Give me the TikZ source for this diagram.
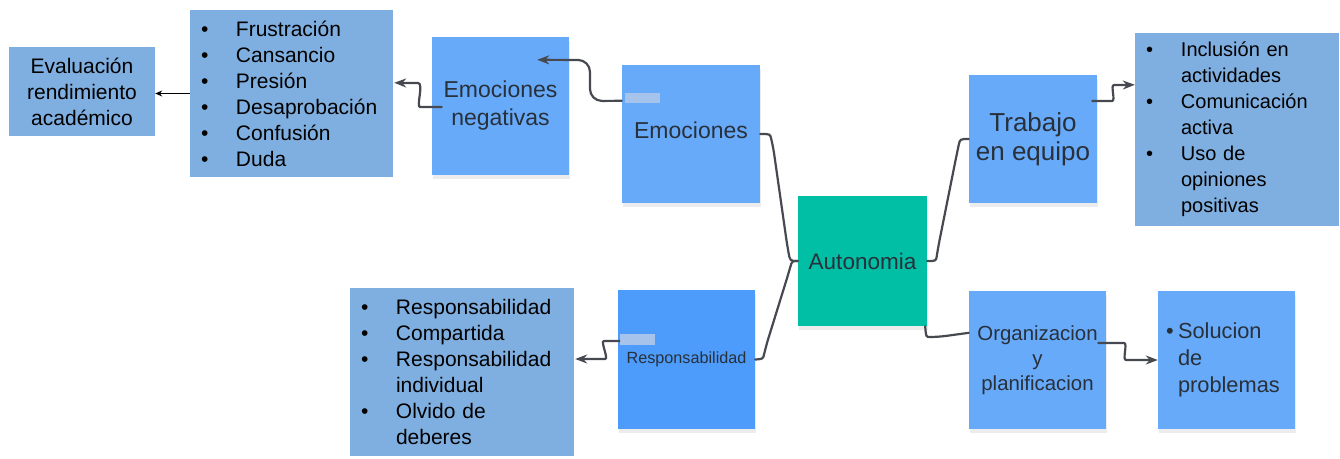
\documentclass[tikz,border=0pt]{standalone}
\usepackage{fontspec}
\setmainfont{Liberation Sans}
\usepackage{tikz}
\usetikzlibrary{shapes,arrows,arrows.meta,positioning,calc,shadows}

\definecolor{listblue}{RGB}{127,175,224}
\definecolor{noteblue}{RGB}{104,170,250}
\definecolor{respblue}{RGB}{77,155,250}
\definecolor{autoteal}{RGB}{0,191,165}
\definecolor{linkgray}{RGB}{70,74,80}
\definecolor{notetext}{RGB}{40,48,58}
\definecolor{patchblue}{RGB}{165,195,235}

\newcommand{\fsz}[2]{\fontsize{#1}{#2}\selectfont}
\newcommand{\itm}{\makebox[35pt][l]{\textbullet}}
\newcommand{\cont}{\hspace*{35pt}}

\begin{document}
\begin{tikzpicture}[
    x=1pt, y=-1pt,
    every node/.style={font=\fsz{21}{26}},
    note/.style={rectangle, fill=noteblue, text=notetext, align=center, inner sep=0pt, minimum width=137pt, minimum height=138pt, drop shadow={shadow xshift=1pt, shadow yshift=-4pt, opacity=0.15}},
    list/.style={rectangle, fill=listblue, text=black, align=left, inner xsep=11pt, inner ysep=0pt},
    link/.style={draw=linkgray, line width=2.2pt, line cap=round, rounded corners=8pt},
    arrow/.style={link, ->, >={Stealth[length=12pt,width=9pt]}},
    thinarrow/.style={draw=black, line width=0.9pt, ->, >={Stealth[length=7pt,width=6pt]}},
    patch/.style={fill=patchblue}
]
\useasboundingbox (0,0) rectangle (1340,458);

\node[rectangle, fill=listblue, align=center, inner sep=0pt, minimum width=146pt, minimum height=89pt] (eval) at (82,91.5) {Evaluación\\rendimiento\\académico};
\node[list, text width=181pt, minimum height=167pt] (negl) at (291.5,93.5) {\itm Frustración\\ \itm Cansancio\\ \itm Presión\\ \itm Desaprobación\\ \itm Confusión\\ \itm Duda};
\node[note, font=\fsz{23}{28}] (neg) at (500.5,106) {Emociones\\negativas};
\node[note, font=\fsz{23}{28}, minimum width=138pt] (emo) at (691,134) {\raisebox{8pt}{Emociones}};
\node[note, fill=autoteal, font=\fsz{22.5}{27}, minimum width=129pt, minimum height=130pt] (auto) at (862.5,261) {Autonomia};
\node[note, font=\fsz{26}{29}, minimum width=128pt, minimum height=128pt] (trab) at (1033,139) {Trabajo\\en equipo};
\node[list, font=\fsz{20}{26}, text width=182pt, minimum height=193pt] (posl) at (1237,129.5) {\itm Inclusión en\\ \cont actividades\\ \itm Comunicación\\ \cont activa\\ \itm Uso de\\ \cont opiniones\\ \cont positivas};
\node[note, font=\fsz{20.4}{25}] (org) at (1037.5,360) {Organizacion\\y\\planificacion};
\node[note, font=\fsz{21.8}{27}, align=left, text width=121pt] (sol) at (1226.5,360) {\makebox[12pt][l]{\textbullet}Solucion\\ \hspace*{12pt}de\\ \hspace*{12pt}problemas};
\node[note, fill=respblue, font=\fsz{16.2}{20}, minimum height=139pt] (resp) at (686.5,359.5) {Responsabilidad};
\node[list, text width=202pt, minimum height=168pt] (respl) at (462,372) {\itm Responsabilidad\\ \itm Compartida\\ \itm Responsabilidad\\ \cont individual\\ \itm Olvido de\\ \cont deberes};

\fill[patch] (625,93) rectangle (660,103);
\fill[patch] (620,334) rectangle (655,345);

\draw[arrow, rounded corners=12pt] ($(emo.north west)+(0,36)$) -- (590,101) -- (590,60) -- ($(neg.north east)+(-32,23)$);
\draw[arrow] ($(neg.west)+(10,1)$) -- (428,107) .. controls (416,107) and (424,83) .. (410,83) -- ($(negl.north east)+(1,73)$);
\draw[thinarrow] (negl.west) -- (negl.west -| eval.east);
\draw[link] (emo.east) .. controls (770,134) .. (773,146) -- (787,244) .. controls (790,261) .. (auto.west);
\draw[link] (resp.east) .. controls (763,359) .. (766,346) -- (788,275) .. controls (792,261) .. (auto.west);
\draw[link] (auto.east) .. controls (936,261) .. (938,248) -- (957,153) .. controls (960,139) .. (trab.west);
\draw[link] ($(auto.south east)+(-2,0)$) .. controls (926,337) .. (938,337) -- ($(org.north west)+(0,42)$);
\draw[arrow] ($(trab.east)+(-5,-38)$) -- (1104,101) .. controls (1116,101) and (1110,85) .. (1122,85) -- ($(posl.north west)+(0,52)$);
\draw[arrow] ($(org.east)+(-8,-17)$) -- (1116,343) .. controls (1128,343) and (1122,360) .. (1134,360) -- (sol.west);
\draw[arrow] ($(resp.west)+(1,-18.5)$) -- (612,341) .. controls (600,341) and (609,359) .. (597,359) -- ($(respl.east)+(1,-13)$);
\end{tikzpicture}
\end{document}
